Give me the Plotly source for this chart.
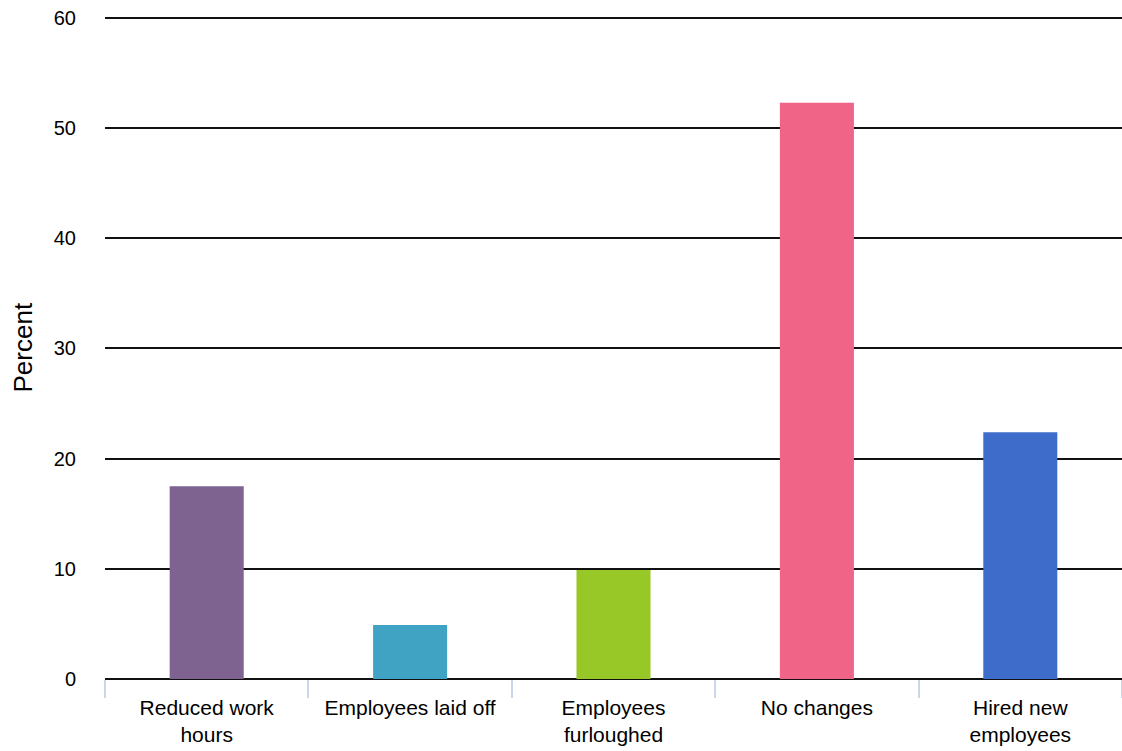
import plotly.graph_objects as go

# Survey responses: workforce changes reported by businesses
categories = [
    "Reduced work<br>hours",
    "Employees laid off",
    "Employees<br>furloughed",
    "No changes",
    "Hired new<br>employees",
]
percent = [17.5, 4.9, 9.9, 52.3, 22.4]
bar_colors = ["#7e6390", "#41a3c3", "#97c828", "#f06587", "#3e6ccb"]
y_ticks = [0, 10, 20, 30, 40, 50, 60]

FONT = "Liberation Sans, Arial, sans-serif"

fig = go.Figure(
    go.Bar(
        x=categories,
        y=percent,
        marker=dict(color=bar_colors, line=dict(width=0)),
        hoverinfo="x+y",
    )
)

fig.update_layout(
    width=1122,
    height=751,
    margin=dict(l=105, r=0, t=16, b=72),
    paper_bgcolor="white",
    plot_bgcolor="white",
    bargap=0.636,
    showlegend=False,
    font=dict(family=FONT, size=20, color="#000"),
)

fig.update_xaxes(
    type="category",
    tickson="boundaries",
    ticks="outside",
    ticklen=18,
    tickwidth=1.5,
    tickcolor="#ccd6eb",
    showgrid=False,
    showline=False,
    ticklabelstandoff=14,
    tickfont=dict(family=FONT, size=21, color="#000"),
    automargin=False,
)

fig.update_yaxes(
    range=[0, 60.18],
    tickvals=y_ticks,
    ticktext=[str(v) for v in y_ticks],
    showgrid=True,
    gridcolor="#111",
    gridwidth=2,
    zeroline=True,
    zerolinecolor="#111",
    zerolinewidth=2,
    showline=False,
    ticks="",
    ticklabelstandoff=28,
    tickfont=dict(family=FONT, size=20, color="#000"),
    automargin=False,
)

fig.add_annotation(
    text="Percent",
    textangle=-90,
    xref="paper",
    yref="paper",
    x=(22 - 105) / 1017,
    y=0.5,
    xanchor="center",
    yanchor="middle",
    showarrow=False,
    font=dict(family=FONT, size=26, color="#000"),
)

fig.write_html("out.html")
